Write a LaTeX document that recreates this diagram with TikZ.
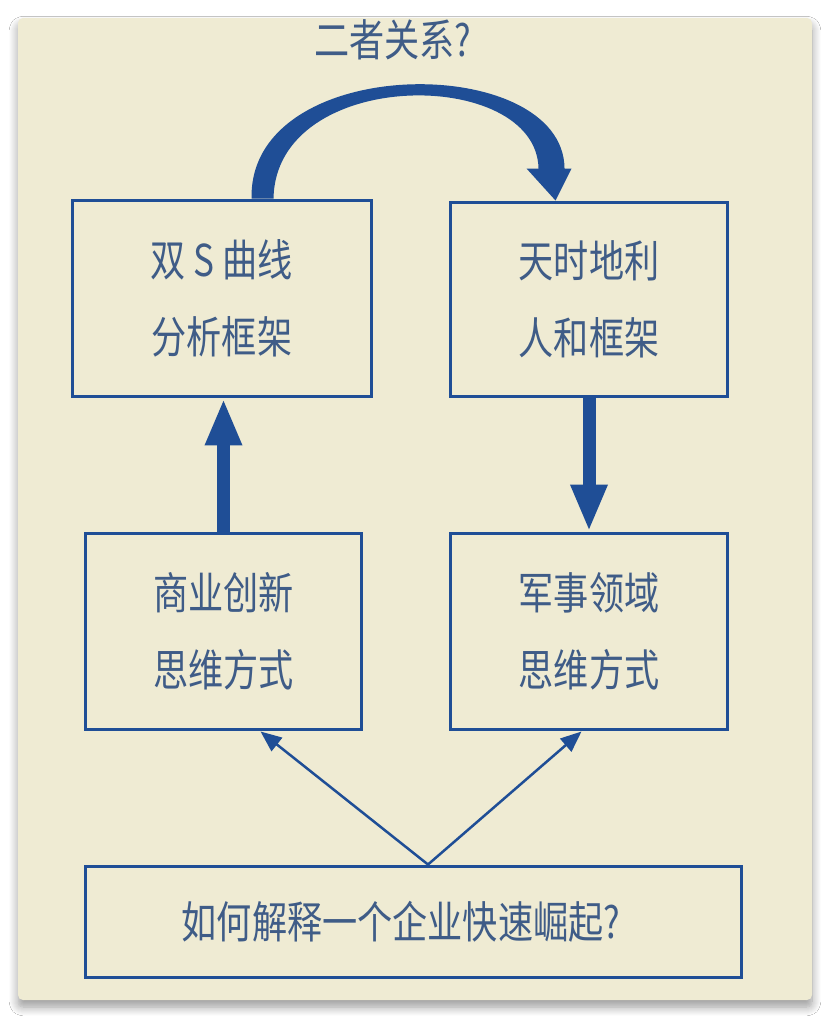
\documentclass[tikz,border=0pt]{standalone}
\usepackage{fontspec}
\newfontfamily\cjk[FakeStretch=0.8]{Noto Sans CJK SC}
\usepackage{xcolor}
\usepackage{tikz}
\usetikzlibrary{positioning}
\usetikzlibrary{calc}
\usetikzlibrary{arrows.meta}
\usetikzlibrary{shadows.blur}
\definecolor{paper}{HTML}{EFEBD3}
\definecolor{ink}{HTML}{1F4E96}
\definecolor{word}{HTML}{3F5C87}

\begin{document}
\begin{tikzpicture}[x=0.02cm, y=-0.02cm, line width=0.06cm,
    box/.style={rectangle, draw=ink, inner sep=0pt, align=center, text=word,
        font=\cjk\fontsize{25}{44}\selectfont},
    fat arrow/.style={draw=ink, line width=0.26cm, -{Triangle[width=0.68cm, length=0.94cm]}},
    slim arrow/.style={draw=ink, line width=0.05cm, -{Triangle[width=0.34cm, length=0.42cm]}}]
        \useasboundingbox (0,0) rectangle (829,1019);
        \fill[white] (0,0) rectangle (829,1019);
        \fill[paper, rounded corners=0.1cm, blur shadow={shadow xshift=0pt, shadow yshift=-4pt,
            shadow blur radius=5pt, shadow blur steps=10}] (18,18) rectangle (812,1000);

        \node [box, minimum width=6cm, minimum height=3.94cm] (sframe) at (222,298.5) {双 S 曲线\\分析框架};
        \node [box, minimum width=5.56cm, minimum height=3.9cm] (tframe) at (589,299.5) {天时地利\\人和框架};
        \node [box, minimum width=5.54cm, minimum height=3.94cm] (bmind) at (223.5,631.5) {商业创新\\思维方式};
        \node [box, minimum width=5.56cm, minimum height=3.94cm] (mmind) at (589,631.5) {军事领域\\思维方式};
        \node [box, minimum width=13.14cm, minimum height=2.22cm] (question) at (413.5,921.5)
            {如何解释一个企业快速崛起?\hspace*{0.5cm}};
        \node [text=word, font=\cjk\fontsize{25}{44}\selectfont] (relation) at (393,40) {二者关系?};

        % curved arrow between the two frames
        \coordinate (lout) at ($(sframe.north west)+(181,0)$);
        \coordinate (lin) at ($(sframe.north west)+(203,0)$);
        \coordinate (rout) at ($(tframe.north west)+(116,-32)$);
        \coordinate (rwing) at ($(tframe.north west)+(123,-32)$);
        \coordinate (rtip) at ($(tframe.north west)+(107,0)$);
        \coordinate (lwing) at ($(tframe.north west)+(78,-32)$);
        \coordinate (rin) at ($(tframe.north west)+(90,-32)$);
        \fill[ink] (lout) .. controls +(-3,-147) and +(-1,-117) .. (rout) -- (rwing) -- (rtip)
            -- (lwing) -- (rin) .. controls +(-2,-102) and +(2,-132) .. (lin) -- cycle;

        \draw[fat arrow] (bmind.north) -- (bmind.north |- sframe.south);
        \draw[fat arrow] (tframe.south) -- (mmind.north);

        \coordinate (fork) at ($(question.north)+(14.5,0)$);
        \draw[slim arrow] (fork) -- ($(bmind.south west)+(177,0)$);
        \draw[slim arrow] (fork) -- ($(mmind.south west)+(133,0)$);
   \end{tikzpicture}
\end{document}
